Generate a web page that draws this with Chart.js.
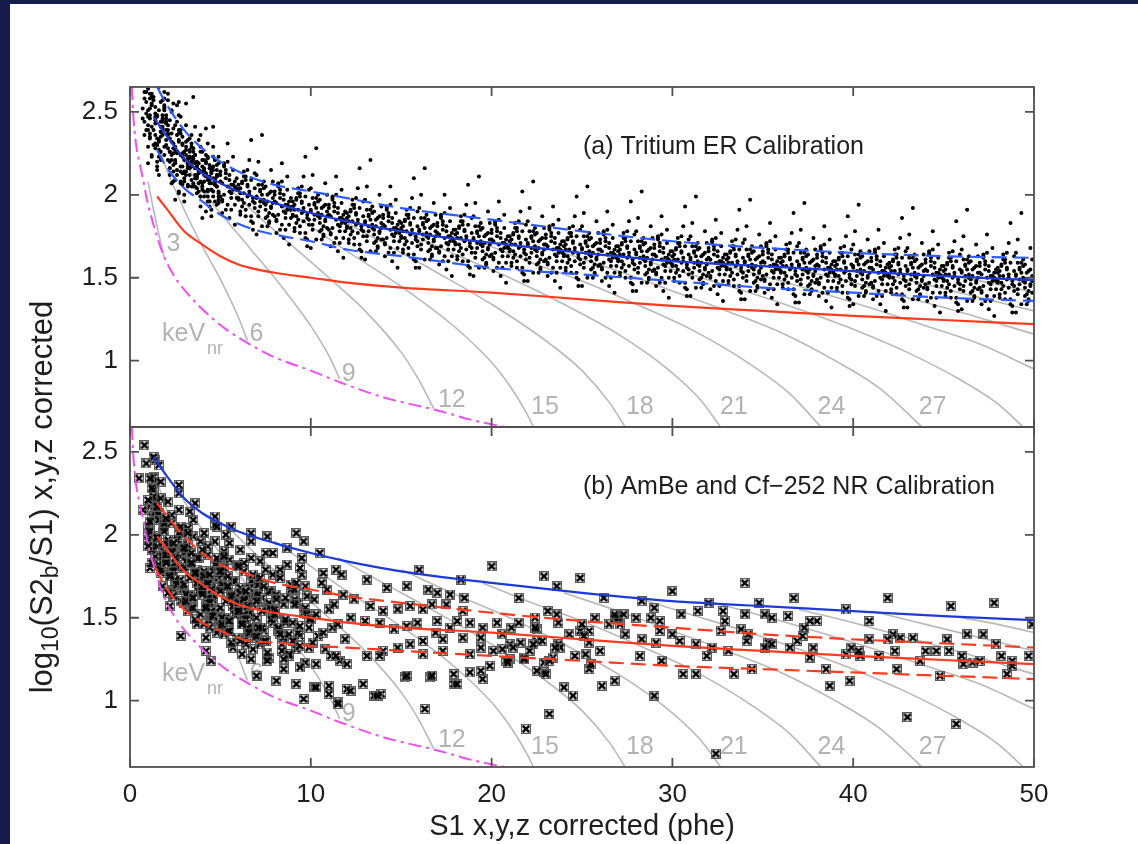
<!DOCTYPE html>
<html lang="en">
<head>
<meta charset="UTF-8" />
<title>ER / NR calibration bands</title>
<script src="https://cdn.jsdelivr.net/npm/chart.js@4.4.1/dist/chart.umd.min.js"></script>
<style>
  html, body { margin: 0; padding: 0; background: #151b4b; }
  body { width: 1138px; height: 844px; overflow: hidden; position: relative; }
  #sheet { position: absolute; left: 10px; top: 4px; width: 1128px; height: 840px; background: #ffffff; }
  #sheet canvas { position: absolute; left: 0; top: 0; }
</style>
</head>
<body>
<div id="sheet">
  <canvas id="panelA" width="1128" height="840"></canvas>
  <canvas id="panelB" width="1128" height="840"></canvas>
</div>
<script>
// axis ticks
const xTicks = [0, 10, 20, 30, 40, 50];
const yTicks = [1, 1.5, 2, 2.5];

// ER band (tritium): mean and 10% / 90% contours
const erS1 = [1.3, 2, 3, 4, 5, 6, 8, 10, 12, 15, 20, 25, 30, 35, 40, 45, 50];
const erMean = [2.47, 2.36, 2.22, 2.13, 2.07, 2.02, 1.95, 1.89, 1.84, 1.78, 1.71, 1.65, 1.60, 1.57, 1.54, 1.51, 1.485];
const erBandS1 = [1.5, 2, 3, 4, 5, 6.6, 8, 10, 12, 15, 20, 25, 30, 35, 40, 45, 50];
const erUpper = [2.65, 2.55, 2.39, 2.28, 2.20, 2.11, 2.06, 2.02, 1.98, 1.92, 1.85, 1.78, 1.72, 1.68, 1.65, 1.63, 1.62];
const erLower = [2.27, 2.17, 2.04, 1.96, 1.88, 1.80, 1.76, 1.72, 1.67, 1.63, 1.56, 1.52, 1.48, 1.44, 1.41, 1.38, 1.36];

// NR band (AmBe / Cf-252): mean and 10% / 90% contours
const nrS1 = [1.5, 2, 3, 4, 5, 6, 7, 8, 10, 12, 15, 20, 25, 30, 35, 40, 45, 50];
const nrMean = [1.99, 1.92, 1.78, 1.70, 1.63, 1.58, 1.55, 1.53, 1.50, 1.47, 1.44, 1.41, 1.37, 1.33, 1.30, 1.27, 1.245, 1.22];
const nrUpS1 = [1.5, 2, 3, 4, 5, 6.6, 8, 10, 12, 15, 20, 25, 30, 35, 40, 45, 50];
const nrUpper = [2.19, 2.12, 1.99, 1.89, 1.82, 1.76, 1.71, 1.67, 1.63, 1.59, 1.53, 1.48, 1.44, 1.40, 1.37, 1.345, 1.32];
const nrLoS1 = [1.4, 2, 3, 4, 5, 6.6, 8, 10, 12, 15, 20, 25, 30, 35, 40, 45, 50];
const nrLower = [1.80, 1.68, 1.55, 1.47, 1.42, 1.36, 1.35, 1.33, 1.32, 1.30, 1.27, 1.24, 1.21, 1.19, 1.17, 1.15, 1.13];

// S2 threshold (dash-dot)
const thrS1 = [0.1, 0.2, 0.38, 0.55, 0.73, 0.92, 1.3, 1.8, 2.5, 3.3, 4.2, 5.3, 6.6, 8, 10, 11.6, 14, 17, 19, 21.2];
const thrLog = [2.65, 2.45, 2.27, 2.18, 2.09, 1.98, 1.82, 1.65, 1.50, 1.39, 1.29, 1.19, 1.10, 1.02, 0.94, 0.87, 0.78, 0.70, 0.64, 0.59];

// constant-energy contours (keVnr)
const keVEnergies = [3, 6, 9, 12, 15, 18, 21, 24, 27, 30, 33, 36, 39, 42];
const keVS1 = [
  [1.0, 1.3, 1.6, 1.9],
  [1.5, 2, 3, 4, 5, 6, 6.5],
  [2.9, 4, 5, 6, 7, 8, 9, 10, 11, 11.6],
  [5.3, 7, 9, 11, 13, 15, 16, 16.8],
  [8, 10, 12, 14, 16, 18, 20, 21, 22, 22.4],
  [11.5, 14, 17, 20, 23, 25, 26.5, 27.5],
  [15, 18, 21, 24, 27, 29.5, 31.5, 32.8],
  [19.5, 22, 25, 28, 31, 34, 36.5, 38.3],
  [24, 27, 30, 33, 36, 39, 41.5, 43.9],
  [28, 31, 34, 37, 40, 43, 46, 48, 49.5],
  [32, 36, 40, 44, 47, 50],
  [37, 40, 43, 46, 50],
  [41, 44, 47, 50],
  [46, 48, 50]
];
const keVLog = [
  [2.08, 1.91, 1.76, 1.62],
  [2.32, 2.16, 1.91, 1.69, 1.49, 1.26, 1.12],
  [2.22, 2.03, 1.89, 1.76, 1.63, 1.50, 1.36, 1.21, 1.03, 0.89],
  [2.06, 1.88, 1.69, 1.50, 1.30, 1.05, 0.88, 0.71],
  [1.96, 1.81, 1.66, 1.52, 1.37, 1.20, 0.99, 0.85, 0.67, 0.58],
  [1.86, 1.71, 1.53, 1.34, 1.12, 0.94, 0.75, 0.58],
  [1.79, 1.64, 1.50, 1.34, 1.16, 0.97, 0.77, 0.58],
  [1.71, 1.60, 1.48, 1.34, 1.19, 1.00, 0.80, 0.59],
  [1.65, 1.54, 1.42, 1.30, 1.17, 1.00, 0.83, 0.59],
  [1.62, 1.52, 1.42, 1.31, 1.19, 1.05, 0.88, 0.74, 0.59],
  [1.60, 1.48, 1.35, 1.21, 1.10, 0.95],
  [1.55, 1.47, 1.38, 1.29, 1.16],
  [1.54, 1.46, 1.38, 1.30],
  [1.50, 1.46, 1.41]
];
const keVLabels = ['3', '6', '9', '12', '15', '18', '21', '24', '27'];
const keVLabelS1 = [2.4, 7.0, 12.1, 17.8, 22.95, 28.2, 33.4, 38.8, 44.4];
const keVLabelLog = [1.70, 1.16, 0.92, 0.76, 0.72, 0.72, 0.72, 0.72, 0.72];

// tritium events: pairs of [S1 x10, log10(S2b/S1) x100]
const tritiumEvents = [
  7,252,8,258,8,244,9,262,9,249,9,239,8,236,7,246,9,256,8,262,
  10,251,11,237,12,261,13,230,14,247,12,255,10,242,13,269,11,234,14,253,12,224,11,258,14,245,10,264,13,239,12,278,14,228,11,248,13,259,10,219,
  12,254,14,243,11,235,13,266,10,229,14,249,12,259,10,239,13,276,11,246,14,231,13,257,12,223,11,261,10,247,12,241,13,270,14,236,11,252,10,295,
  15,234,16,251,17,226,18,245,19,258,17,238,15,220,18,248,16,265,19,229,17,241,16,233,19,253,15,215,18,244,17,256,19,224,16,280,18,236,15,247,
  17,244,15,230,19,254,16,223,18,240,15,248,17,235,19,262,16,227,18,246,15,217,19,251,17,238,18,257,16,232,15,271,17,221,18,241,19,252,16,212,
  20,239,21,228,22,220,23,251,24,214,22,234,20,244,23,224,21,261,24,231,22,216,21,242,24,208,20,246,23,232,22,226,24,255,21,221,23,237,20,280,
  22,226,20,243,24,218,21,237,23,250,20,230,22,212,24,240,21,257,23,221,20,233,24,225,22,245,23,207,21,236,20,248,22,216,23,272,24,228,21,239,
  25,229,26,215,27,239,28,208,29,225,27,233,25,220,28,247,26,212,29,231,27,202,26,236,29,223,25,242,28,217,27,256,29,206,26,226,28,237,25,197,
  27,232,25,221,29,213,26,244,28,207,25,227,27,237,29,217,26,254,28,224,25,209,29,235,27,201,28,239,26,225,25,219,27,248,28,214,29,230,26,273,
  30,214,31,229,32,206,33,223,34,236,32,217,30,200,33,227,31,242,34,209,32,220,31,212,34,231,30,196,33,222,32,233,34,205,31,255,33,216,30,226,
  35,222,36,212,37,204,38,233,39,199,37,217,35,226,38,207,36,241,39,214,37,201,36,224,39,193,35,228,38,215,37,210,39,236,36,205,38,219,35,259,
  40,214,41,202,42,224,43,196,44,211,42,219,40,207,43,231,41,199,44,216,42,190,41,221,44,209,40,226,43,203,42,240,44,193,41,212,43,222,40,186,
  45,203,46,217,47,196,48,212,49,223,47,206,45,191,48,215,46,229,49,199,47,209,46,202,49,219,45,187,48,211,47,221,49,195,46,241,48,205,45,214,
  50,208,51,197,52,217,53,191,54,205,55,212,56,201,57,223,58,194,59,210,55,186,50,214,57,203,52,219,59,198,54,231,51,189,56,206,53,215,58,182,
  63,195,67,209,61,188,69,204,65,215,60,198,68,183,62,207,66,221,64,191,61,201,66,194,63,211,68,179,60,203,69,213,64,187,67,233,62,197,65,206,
  78,202,72,193,75,186,70,212,76,181,79,198,73,206,77,189,71,220,74,195,77,183,74,204,70,176,79,208,72,196,75,191,78,215,71,187,76,200,73,236,
  80,196,81,185,82,205,83,179,84,193,85,200,86,189,87,211,88,182,89,198,85,174,80,202,87,191,82,207,89,186,84,219,81,177,86,194,83,203,88,170,
  93,185,97,199,91,178,99,194,95,205,90,188,98,173,92,197,96,211,94,181,91,191,96,184,93,201,98,169,90,193,99,203,94,177,97,223,92,187,95,196,
  108,194,102,185,105,178,100,204,106,173,109,190,103,198,107,181,101,212,104,187,107,175,104,196,100,168,109,200,102,188,105,183,108,207,101,179,106,192,103,228,
  110,188,111,177,112,197,113,171,114,185,115,192,116,181,117,203,118,174,119,190,115,166,110,194,117,183,112,199,119,178,114,211,111,169,116,186,113,195,118,162,
  123,178,127,192,121,171,129,187,125,198,120,181,128,166,122,190,126,204,124,174,121,184,126,177,123,194,128,162,120,186,129,196,124,170,127,216,122,180,125,189,
  138,187,132,178,135,171,130,197,136,166,139,183,133,191,137,174,131,205,134,180,137,168,134,189,130,161,139,193,132,181,135,176,138,200,131,172,136,185,133,221,
  140,182,141,171,142,191,143,165,144,179,145,186,146,175,147,197,148,168,149,184,145,160,140,188,147,177,142,193,149,172,144,205,141,163,146,180,143,189,148,156,
  153,172,157,186,151,165,159,181,155,192,150,175,158,160,152,184,156,198,154,168,151,178,156,171,153,188,158,156,150,180,159,190,154,164,157,210,152,174,155,183,
  168,182,162,173,165,166,160,192,166,161,169,178,163,186,167,169,161,200,164,175,167,163,164,184,160,156,169,188,162,176,165,171,168,195,161,167,166,180,163,216,
  170,177,171,166,172,186,173,160,174,174,175,181,176,170,177,192,178,163,179,179,175,155,170,183,177,172,172,188,179,167,174,200,171,158,176,175,173,184,178,151,
  183,168,187,182,181,161,189,177,185,188,180,171,188,156,182,180,186,194,184,164,181,174,186,167,183,184,188,152,180,176,189,186,184,160,187,206,182,170,185,179,
  198,177,192,168,195,161,190,187,196,156,199,173,193,181,197,164,191,195,194,170,197,158,194,179,190,151,199,183,192,171,195,166,198,190,191,162,196,175,193,211,
  200,173,201,162,202,182,203,156,204,170,205,177,206,166,207,188,208,159,209,175,205,151,200,179,207,168,202,184,209,163,204,196,201,154,206,171,203,180,208,147,
  213,164,217,178,211,157,219,173,215,184,210,167,218,152,212,176,216,190,214,160,211,170,216,163,213,180,218,148,210,172,219,182,214,156,217,202,212,166,215,175,
  228,174,222,165,225,158,220,184,226,153,229,170,223,178,227,161,221,192,224,167,227,155,224,176,220,148,229,180,222,168,225,163,228,187,221,159,226,172,223,208,
  230,170,231,159,232,179,233,153,234,167,235,174,236,163,237,185,238,156,239,172,235,148,230,176,237,165,232,181,239,160,234,193,231,151,236,168,233,177,238,144,
  243,161,247,175,241,154,249,170,245,181,240,164,248,149,242,173,246,187,244,157,241,167,246,160,243,177,248,145,240,169,249,179,244,153,247,199,242,163,245,172,
  258,171,252,162,255,155,250,181,256,150,259,167,253,175,257,158,251,189,254,164,257,152,254,173,250,145,259,177,252,165,255,160,258,184,251,156,256,169,253,205,
  260,167,261,156,262,176,263,150,264,164,265,171,266,160,267,182,268,153,269,169,265,145,260,173,267,162,262,178,269,157,264,190,261,148,266,165,263,174,268,141,
  273,158,277,172,271,151,279,167,275,178,270,161,278,146,272,170,276,184,274,154,271,164,276,157,273,174,278,142,270,166,279,176,274,150,277,196,272,160,275,169,
  288,168,282,159,285,152,280,178,286,147,289,164,283,172,287,155,281,186,284,161,287,149,284,170,280,142,289,174,282,162,285,157,288,181,281,153,286,166,283,202,
  290,164,291,153,292,173,293,147,294,161,295,168,296,157,297,179,298,150,299,166,295,142,290,170,297,159,292,175,299,154,294,187,291,145,296,162,293,171,298,138,
  303,155,307,169,301,148,309,164,305,175,300,158,308,143,302,167,306,181,304,151,301,161,306,154,303,171,308,139,300,163,309,173,304,147,307,193,302,157,305,166,
  318,165,312,156,315,149,310,175,316,144,319,161,313,169,317,152,311,183,314,158,317,146,314,167,310,139,319,171,312,159,315,154,318,178,311,150,316,163,313,199,
  320,162,321,151,322,171,323,145,324,159,325,166,326,155,327,177,328,148,329,164,325,140,320,168,327,157,322,173,329,152,324,185,321,143,326,160,323,169,328,136,
  333,153,337,167,331,146,339,162,335,173,330,156,338,141,332,165,336,179,334,149,331,159,336,152,333,169,338,137,330,161,339,171,334,145,337,191,332,155,335,164,
  348,163,342,154,345,147,340,173,346,142,349,159,343,167,347,150,341,181,344,156,347,144,344,165,340,137,349,169,342,157,345,152,348,176,341,148,346,161,343,197,
  350,160,351,149,352,169,353,143,354,157,355,164,356,153,357,175,358,146,359,162,355,138,350,166,357,155,352,171,359,150,354,183,351,141,356,158,353,167,358,134,
  363,151,367,165,361,144,369,160,365,171,360,154,368,139,362,163,366,177,364,147,361,157,366,150,363,167,368,135,360,159,369,169,364,143,367,189,362,153,365,162,
  378,161,372,152,375,145,370,171,376,140,379,157,373,165,377,148,371,179,374,154,377,142,374,163,370,135,379,167,372,155,375,150,378,174,371,146,376,159,373,195,
  380,158,381,147,382,167,383,141,384,155,385,162,386,151,387,173,388,144,389,160,385,136,380,164,387,153,382,169,389,148,384,181,381,139,386,156,383,165,388,132,
  393,149,397,163,391,142,399,158,395,169,390,152,398,137,392,161,396,175,394,145,391,155,396,148,393,165,398,133,390,157,399,167,394,141,397,187,392,151,395,160,
  408,160,402,151,405,144,400,170,406,139,409,156,403,164,407,147,401,178,404,153,407,141,404,162,400,134,409,166,402,154,405,149,408,173,401,145,406,158,403,194,
  410,156,411,145,412,165,413,139,414,153,415,160,416,149,417,171,418,142,419,158,415,134,410,162,417,151,412,167,419,146,414,179,411,137,416,154,413,163,418,130,
  423,148,427,162,421,141,429,157,425,168,420,151,428,136,422,160,426,174,424,144,421,154,426,147,423,164,428,132,420,156,429,166,424,140,427,186,422,150,425,159,
  438,158,432,149,435,142,430,168,436,137,439,154,433,162,437,145,431,176,434,151,437,139,434,160,430,132,439,164,432,152,435,147,438,171,431,143,436,156,433,192,
  440,155,441,144,442,164,443,138,444,152,445,159,446,148,447,170,448,141,449,157,445,133,440,161,447,150,442,166,449,145,444,178,441,136,446,153,443,162,448,129,
  453,146,457,160,451,139,459,155,455,166,450,149,458,134,452,158,456,172,454,142,451,152,456,145,453,162,458,130,450,154,459,164,454,138,457,184,452,148,455,157,
  468,157,462,148,465,141,460,167,466,136,469,153,463,161,467,144,461,175,464,150,467,138,464,159,460,131,469,163,462,151,465,146,468,170,461,142,466,155,463,191,
  470,153,471,142,472,162,473,136,474,150,475,157,476,146,477,168,478,139,479,155,475,131,470,159,477,148,472,164,479,143,474,176,471,134,476,151,473,160,478,127,
  483,145,487,159,481,138,489,154,485,165,480,148,488,133,482,157,486,171,484,141,481,151,486,144,483,161,488,129,480,153,489,163,484,137,487,183,482,147,485,156,
  498,155,492,146,495,139,490,165,496,134,499,151,493,159,497,142,491,173,494,148,497,136,494,157,490,129,499,161,492,149,495,144,498,168,491,140,496,153,493,189
];

// tritium events in the band core: same encoding
const tritiumCoreEvents = [
  34,217,31,224,33,212,30,221,34,229,31,214,32,219,30,208,33,226,32,216,31,232,34,218,33,223,30,210,32,205,31,227,34,220,30,213,33,234,32,222,
  36,219,38,214,35,207,39,226,37,211,36,216,38,202,35,221,37,217,39,208,36,224,38,213,35,205,37,220,39,229,36,210,38,215,35,223,37,212,39,199,
  42,212,44,207,40,217,43,202,41,214,44,210,42,220,40,205,43,199,41,215,42,211,44,218,41,208,43,223,40,203,42,213,44,196,41,216,43,209,40,221,
  47,206,45,213,49,201,46,210,48,218,45,203,47,208,49,197,46,215,48,205,47,221,45,207,49,212,46,199,48,194,45,216,47,209,49,202,46,223,48,211,
  59,203,53,210,56,198,51,207,57,215,52,200,58,205,54,194,50,212,55,202,52,218,59,204,55,209,51,196,56,191,53,213,57,206,50,199,54,220,58,208,
  61,204,65,199,69,192,64,211,68,196,63,201,67,187,60,206,66,202,62,193,64,209,68,198,61,190,65,205,63,214,69,195,66,200,62,208,60,197,67,184,
  74,197,78,192,72,202,76,187,70,199,79,195,75,205,71,190,77,184,73,200,76,196,72,203,78,193,74,208,79,188,70,198,73,181,77,201,75,194,71,206,
  89,191,83,198,86,186,81,195,87,203,82,188,88,193,84,182,80,200,85,190,82,206,89,192,85,197,81,184,86,179,83,201,87,194,80,187,84,208,88,196,
  91,194,95,189,99,182,94,201,98,186,93,191,97,177,90,196,96,192,92,183,94,199,98,188,91,180,95,195,93,204,99,185,96,190,92,198,90,187,97,174,
  104,189,108,184,102,194,106,179,100,191,109,187,105,197,101,182,107,176,103,192,106,188,102,195,108,185,104,200,109,180,100,190,103,173,107,193,105,186,101,198,
  119,183,113,190,116,178,111,187,117,195,112,180,118,185,114,174,110,192,115,182,112,198,119,184,115,189,111,176,116,171,113,193,117,186,110,179,114,200,118,188,
  121,187,125,182,129,175,124,194,128,179,123,184,127,170,120,189,126,185,122,176,124,192,128,181,121,173,125,188,123,197,129,178,126,183,122,191,120,180,127,167,
  134,182,138,177,132,187,136,172,130,184,139,180,135,190,131,175,137,169,133,185,136,181,132,188,138,178,134,193,139,173,130,183,133,166,137,186,135,179,131,191,
  149,177,143,184,146,172,141,181,147,189,142,174,148,179,144,168,140,186,145,176,142,192,149,178,145,183,141,170,146,165,143,187,147,180,140,173,144,194,148,182,
  151,181,155,176,159,169,154,188,158,173,153,178,157,164,150,183,156,179,152,170,154,186,158,175,151,167,155,182,153,191,159,172,156,177,152,185,150,174,157,161,
  164,177,168,172,162,182,166,167,160,179,169,175,165,185,161,170,167,164,163,180,166,176,162,183,168,173,164,188,169,168,160,178,163,161,167,181,165,174,161,186,
  179,172,173,179,176,167,171,176,177,184,172,169,178,174,174,163,170,181,175,171,172,187,179,173,175,178,171,165,176,160,173,182,177,175,170,168,174,189,178,177,
  181,177,185,172,189,165,184,184,188,169,183,174,187,160,180,179,186,175,182,166,184,182,188,171,181,163,185,178,183,187,189,168,186,173,182,181,180,170,187,157,
  194,172,198,167,192,177,196,162,190,174,199,170,195,180,191,165,197,159,193,175,196,171,192,178,198,168,194,183,199,163,190,173,193,156,197,176,195,169,191,181,
  209,168,203,175,206,163,201,172,207,180,202,165,208,170,204,159,200,177,205,167,202,183,209,169,205,174,201,161,206,156,203,178,207,171,200,164,204,185,208,173,
  211,173,215,168,219,161,214,180,218,165,213,170,217,156,210,175,216,171,212,162,214,178,218,167,211,159,215,174,213,183,219,164,216,169,212,177,210,166,217,153,
  224,169,228,164,222,174,226,159,220,171,229,167,225,177,221,162,227,156,223,172,226,168,222,175,228,165,224,180,229,160,220,170,223,153,227,173,225,166,221,178,
  239,165,233,172,236,160,231,169,237,177,232,162,238,167,234,156,230,174,235,164,232,180,239,166,235,171,231,158,236,153,233,175,237,168,230,161,234,182,238,170,
  241,170,245,165,249,158,244,177,248,162,243,167,247,153,240,172,246,168,242,159,244,175,248,164,241,156,245,171,243,180,249,161,246,166,242,174,240,163,247,150,
  254,166,258,161,252,171,256,156,250,168,259,164,255,174,251,159,257,153,253,169,256,165,252,172,258,162,254,177,259,157,250,167,253,150,257,170,255,163,251,175,
  269,162,263,169,266,157,261,166,267,174,262,159,268,164,264,153,260,171,265,161,262,177,269,163,265,168,261,155,266,150,263,172,267,165,260,158,264,179,268,167,
  271,167,275,162,279,155,274,174,278,159,273,164,277,150,270,169,276,165,272,156,274,172,278,161,271,153,275,168,273,177,279,158,276,163,272,171,270,160,277,147,
  284,163,288,158,282,168,286,153,280,165,289,161,285,171,281,156,287,150,283,166,286,162,282,169,288,159,284,174,289,154,280,164,283,147,287,167,285,160,281,172,
  299,159,293,166,296,154,291,163,297,171,292,156,298,161,294,150,290,168,295,158,292,174,299,160,295,165,291,152,296,147,293,169,297,162,290,155,294,176,298,164,
  301,164,305,159,309,152,304,171,308,156,303,161,307,147,300,166,306,162,302,153,304,169,308,158,301,150,305,165,303,174,309,155,306,160,302,168,300,157,307,144,
  314,160,318,155,312,165,316,150,310,162,319,158,315,168,311,153,317,147,313,163,316,159,312,166,318,156,314,171,319,151,310,161,313,144,317,164,315,157,311,169,
  329,157,323,164,326,152,321,161,327,169,322,154,328,159,324,148,320,166,325,156,322,172,329,158,325,163,321,150,326,145,323,167,327,160,320,153,324,174,328,162,
  331,162,335,157,339,150,334,169,338,154,333,159,337,145,330,164,336,160,332,151,334,167,338,156,331,148,335,163,333,172,339,153,336,158,332,166,330,155,337,142,
  344,158,348,153,342,163,346,148,340,160,349,156,345,166,341,151,347,145,343,161,346,157,342,164,348,154,344,169,349,149,340,159,343,142,347,162,345,155,341,167,
  359,155,353,162,356,150,351,159,357,167,352,152,358,157,354,146,350,164,355,154,352,170,359,156,355,161,351,148,356,143,353,165,357,158,350,151,354,172,358,160,
  361,160,365,155,369,148,364,167,368,152,363,157,367,143,360,162,366,158,362,149,364,165,368,154,361,146,365,161,363,170,369,151,366,156,362,164,360,153,367,140,
  374,156,378,151,372,161,376,146,370,158,379,154,375,164,371,149,377,143,373,159,376,155,372,162,378,152,374,167,379,147,370,157,373,140,377,160,375,153,371,165,
  389,153,383,160,386,148,381,157,387,165,382,150,388,155,384,144,380,162,385,152,382,168,389,154,385,159,381,146,386,141,383,163,387,156,380,149,384,170,388,158,
  391,158,395,153,399,146,394,165,398,150,393,155,397,141,390,160,396,156,392,147,394,163,398,152,391,144,395,159,393,168,399,149,396,154,392,162,390,151,397,138,
  404,155,408,150,402,160,406,145,400,157,409,153,405,163,401,148,407,142,403,158,406,154,402,161,408,151,404,166,409,146,400,156,403,139,407,159,405,152,401,164,
  419,151,413,158,416,146,411,155,417,163,412,148,418,153,414,142,410,160,415,150,412,166,419,152,415,157,411,144,416,139,413,161,417,154,410,147,414,168,418,156,
  421,157,425,152,429,145,424,164,428,149,423,154,427,140,420,159,426,155,422,146,424,162,428,151,421,143,425,158,423,167,429,148,426,153,422,161,420,150,427,137,
  434,153,438,148,432,158,436,143,430,155,439,151,435,161,431,146,437,140,433,156,436,152,432,159,438,149,434,164,439,144,430,154,433,137,437,157,435,150,431,162,
  449,150,443,157,446,145,441,154,447,162,442,147,448,152,444,141,440,159,445,149,442,165,449,151,445,156,441,143,446,138,443,160,447,153,440,146,444,167,448,155,
  451,155,455,150,459,143,454,162,458,147,453,152,457,138,450,157,456,153,452,144,454,160,458,149,451,141,455,156,453,165,459,146,456,151,452,159,450,148,457,135,
  464,152,468,147,462,157,466,142,460,154,469,150,465,160,461,145,467,139,463,155,466,151,462,158,468,148,464,163,469,143,460,153,463,136,467,156,465,149,461,161,
  479,148,473,155,476,143,471,152,477,160,472,145,478,150,474,139,470,157,475,147,472,163,479,149,475,154,471,141,476,136,473,158,477,151,470,144,474,165,478,153,
  481,154,485,149,489,142,484,161,488,146,483,151,487,137,480,156,486,152,482,143,484,159,488,148,481,140,485,155,483,164,489,145,486,150,482,158,480,147,487,134,
  494,150,498,145,492,155,496,140,490,152,499,148,495,158,491,143,497,137,493,153,496,149,492,156,498,146,494,161,499,141,490,151,493,134,497,154,495,147,491,159
];

// neutron events: pairs of [S1 x10, log10(S2b/S1) x100]
const neutronEvents = [
  10,205,11,217,12,195,13,227,14,187,12,211,10,200,13,235,11,180,14,220,12,191,11,208,14,245,10,197,13,223,12,183,14,214,11,202,13,232,10,193,
  15,193,16,213,17,177,18,205,19,185,17,222,15,199,18,169,16,209,19,190,17,232,16,182,19,202,15,217,18,195,17,179,19,207,16,242,18,187,15,198,
  20,185,21,197,22,175,23,207,24,167,25,191,26,180,27,215,28,160,29,200,25,171,20,188,27,225,22,177,29,203,24,163,21,194,26,182,23,212,28,173,
  23,181,27,201,21,165,29,193,25,173,20,210,28,187,22,157,26,197,24,178,21,220,26,170,23,190,28,205,20,183,29,167,24,195,27,230,22,175,25,186,
  5,234,8,254,13,247,9,243,7,215,11,234,12,228,10,221,
  30,170,31,190,32,154,33,182,34,162,35,199,36,176,37,146,38,186,39,167,35,209,30,159,37,179,32,194,39,172,34,156,31,184,36,219,33,164,38,175,
  33,174,37,186,31,164,39,196,35,156,30,180,38,169,32,204,36,149,34,189,31,160,36,177,33,214,38,166,30,192,39,152,34,183,37,171,32,201,35,162,
  40,166,41,178,42,156,43,188,44,148,45,172,46,161,47,196,48,141,49,181,45,152,40,169,47,206,42,158,49,184,44,144,41,175,46,163,43,193,48,154,
  43,162,47,182,41,146,49,174,45,154,40,191,48,168,42,138,46,178,44,159,41,201,46,151,43,171,48,186,40,164,49,148,44,176,47,211,42,156,45,167,
  50,156,51,176,52,140,53,168,54,148,55,185,56,162,57,132,58,172,59,153,55,195,50,145,57,165,52,180,59,158,54,142,51,170,56,205,53,150,58,161,
  53,160,57,172,51,150,59,182,55,142,50,166,58,155,52,190,56,135,54,175,51,146,56,163,53,200,58,152,50,178,59,138,54,169,57,157,52,187,55,148,
  60,156,61,168,62,146,63,178,64,138,65,162,66,151,67,186,68,131,69,171,65,142,60,159,67,196,62,148,69,174,64,134,61,165,66,153,63,183,68,144,
  63,152,67,172,61,136,69,164,65,144,60,181,68,158,62,128,66,168,64,149,61,191,66,141,63,161,68,176,60,154,69,138,64,166,67,201,62,146,65,157,
  70,150,71,170,72,134,73,162,74,142,75,179,76,156,77,126,78,166,79,147,75,189,70,139,77,159,72,174,79,152,74,136,71,164,76,199,73,144,78,155,
  73,154,77,166,71,144,79,176,75,136,70,160,78,149,72,184,76,129,74,169,
  80,152,81,164,82,142,83,174,84,134,85,158,86,147,87,182,88,127,89,167,85,138,80,155,87,192,82,144,89,170,84,130,81,161,86,149,83,179,88,140,
  90,147,91,167,92,131,93,159,94,139,95,176,96,153,97,123,98,163,99,144,95,186,90,136,97,156,92,171,99,149,94,133,91,161,96,196,93,141,98,152,
  83,140,86,162,88,128,91,158,94,145,97,169,85,119,92,110,96,101,99,132,
  100,149,102,161,104,139,106,171,108,131,110,155,112,144,114,179,116,124,118,164,101,135,103,152,105,189,107,141,109,167,111,127,113,158,115,146,117,176,119,137,
  28,139,42,130,45,124,67,125,81,112,102,108,115,99,120,107,129,110,135,103,139,104,163,95,152,114,166,114,179,110,188,117,195,113,
  48,205,92,201,160,179,200,181,183,173,79,189,94,180,107,177,
  131,173,142,168,153,169,165,167,170,165,177,164,175,158,185,162,184,154,167,158,162,155,155,157,148,155,140,154,133,157,124,161,
  122,150,130,148,138,147,146,143,153,145,159,147,170,148,169,141,177,144,181,148,188,147,195,144,203,147,206,140,194,138,184,138,
  173,137,162,136,155,134,148,132,140,130,131,127,138,127,162,128,173,130,188,128,194,132,201,130,210,134,221,130,225,136,229,123,
  218,126,229,117,210,125,199,121,194,118,179,116,181,110,167,115,153,115,122,106,110,104,115,98,137,103,110,109,103,108,94,120,
  103,122,85,125,76,124,70,115,120,122,114,127,
  229,175,249,174,236,169,215,162,340,171,300,166,367,162,419,162,454,157,478,159,396,155,320,159,348,159,283,160,262,162,290,156,
  314,154,409,148,380,148,364,151,463,140,472,140,499,146,430,90,457,86,232,92,219,83,324,68,387,109,398,112,240,108,245,103,
  261,109,268,112,290,103,448,115,485,116,424,119,306,116,313,116,334,116,344,119,385,119,225,118,230,116,254,119,255,122,208,124,
  294,124,423,130,440,130,446,130,453,130,460,127,466,123,470,124,488,124,497,127,479,134,396,128,404,127,414,127,426,138,433,138,
  452,137,399,132,403,130,409,137,369,136,372,139,378,132,376,126,365,132,353,135,351,132,355,134,341,136,338,143,342,140,327,142,
  322,132,331,130,319,127,313,134,304,136,291,135,293,142,300,140,283,137,282,127,274,140,271,146,268,150,280,150,270,150,265,146,
  254,135,260,130,254,142,249,142,251,139,243,140,237,134,238,132,235,132,228,136,225,143,223,134,216,135,212,132,206,131,211,144,
  215,147,224,144,224,150,236,152,237,147,231,154,250,146,257,150,268,152,273,152,252,128,246,127,234,126,232,124,218,125,209,123,
  305,152,293,148,288,150,351,152,355,150,376,148,373,144,329,148,328,154,340,152,422,140,419,137,437,124,461,122,482,127,488,121
];

const FONT = "'Liberation Sans', Arial, Helvetica, sans-serif";
const INK = '#1e1e1e';
const LABEL_GREY = '#b3b3b3';

function pairsToPoints(flat) {
  const pts = [];
  for (let i = 0; i < flat.length; i += 2) pts.push({ x: flat[i] / 10, y: flat[i + 1] / 100 });
  return pts;
}
function zip(xs, ys) {
  return xs.map((x, i) => ({ x: x, y: ys[i] }));
}
function curve(xs, ys, color, width, dash, order) {
  return {
    data: zip(xs, ys), showLine: true, fill: false,
    borderColor: color, borderWidth: width, borderDash: dash || [],
    pointRadius: 0, pointHoverRadius: 0,
    cubicInterpolationMode: 'monotone', order: order
  };
}

// boxed x marker, as on the neutron plot
const xMark = document.createElement('canvas');
xMark.width = 10; xMark.height = 10;
(function () {
  const c = xMark.getContext('2d');
  c.strokeStyle = '#5a5a5a'; c.lineWidth = 1.2;
  c.strokeRect(0.6, 0.6, 8.8, 8.8);
  c.strokeStyle = '#000'; c.lineWidth = 2.4;
  c.beginPath();
  c.moveTo(1.8, 1.8); c.lineTo(8.2, 8.2);
  c.moveTo(8.2, 1.8); c.lineTo(1.8, 8.2);
  c.stroke();
})();

// frame with inward ticks on all four sides
const framePlugin = {
  id: 'frame',
  afterDraw(chart) {
    const { ctx, chartArea: a, scales } = chart;
    const x = scales.x, y = scales.y;
    ctx.save();
    ctx.strokeStyle = '#505050';
    ctx.lineWidth = 1.8;
    ctx.strokeRect(a.left, a.top, a.right - a.left, a.bottom - a.top);
    ctx.beginPath();
    xTicks.forEach(v => {
      const px = x.getPixelForValue(v);
      ctx.moveTo(px, a.bottom); ctx.lineTo(px, a.bottom - 9);
      ctx.moveTo(px, a.top); ctx.lineTo(px, a.top + 9);
    });
    yTicks.forEach(v => {
      const py = y.getPixelForValue(v);
      ctx.moveTo(a.left, py); ctx.lineTo(a.left + 9, py);
      ctx.moveTo(a.right, py); ctx.lineTo(a.right - 9, py);
    });
    ctx.stroke();
    ctx.restore();
  }
};

// energy labels under the data, panel title on top
const notesPlugin = {
  id: 'notes',
  beforeDatasetsDraw(chart) {
    const { ctx, scales: { x, y } } = chart;
    ctx.save();
    ctx.fillStyle = LABEL_GREY;
    ctx.font = '25px ' + FONT;
    ctx.textAlign = 'center';
    ctx.textBaseline = 'middle';
    keVLabels.forEach((t, i) => ctx.fillText(t, x.getPixelForValue(keVLabelS1[i]), y.getPixelForValue(keVLabelLog[i])));
    ctx.textAlign = 'left';
    ctx.fillText('keV', x.getPixelForValue(1.77), y.getPixelForValue(1.16));
    ctx.font = '18px ' + FONT;
    ctx.fillText('nr', x.getPixelForValue(4.26), y.getPixelForValue(1.07));
    ctx.restore();
  },
  afterDatasetsDraw(chart, args, opts) {
    const { ctx, scales: { x, y } } = chart;
    ctx.save();
    ctx.fillStyle = INK;
    ctx.font = '25px ' + FONT;
    ctx.textAlign = 'left';
    ctx.textBaseline = 'middle';
    ctx.fillText(opts.title, x.getPixelForValue(25.05), y.getPixelForValue(2.29));
    if (opts.yTitle) {
      const parts = [['log', 0], ['10', 1], ['(S2', 0], ['b', 1], ['/S1) x,y,z corrected', 0]];
      const big = '31px ' + FONT, small = '23px ' + FONT;
      let total = 0;
      parts.forEach(p => { ctx.font = p[1] ? small : big; total += ctx.measureText(p[0]).width; });
      ctx.translate(42, 493);
      ctx.rotate(-Math.PI / 2);
      ctx.textBaseline = 'alphabetic';
      let cx = -total / 2;
      parts.forEach(p => {
        ctx.font = p[1] ? small : big;
        ctx.fillText(p[0], cx, p[1] ? 6 : 0);
        cx += ctx.measureText(p[0]).width;
      });
    }
    ctx.restore();
  }
};

function makePanel(id, datasets, opts) {
  return new Chart(document.getElementById(id), {
    type: 'scatter',
    data: { datasets: datasets },
    options: {
      responsive: false,
      animation: false,
      devicePixelRatio: 1,
      events: [],
      layout: { padding: { left: 0, right: 104, top: opts.top, bottom: opts.bottom } },
      plugins: {
        legend: { display: false },
        tooltip: { enabled: false },
        notes: { title: opts.title, yTitle: opts.yTitle }
      },
      scales: {
        x: {
          type: 'linear', min: 0, max: 50,
          afterBuildTicks: s => { s.ticks = xTicks.map(v => ({ value: v })); },
          afterFit: s => { s.height = opts.showX ? 77 : 0; },
          grid: { display: false, drawTicks: false },
          border: { display: false },
          ticks: { display: opts.showX, color: INK, padding: 12, maxRotation: 0, font: { family: FONT, size: 26 } },
          title: { display: opts.showX, text: 'S1 x,y,z corrected (phe)', color: INK, padding: { top: 0, bottom: 0 }, font: { family: FONT, size: 29 } }
        },
        y: {
          type: 'linear', min: 0.6, max: 2.65,
          afterBuildTicks: s => { s.ticks = yTicks.map(v => ({ value: v })); },
          afterFit: s => { s.width = 120; },
          grid: { display: false, drawTicks: false },
          border: { display: false },
          ticks: { color: INK, padding: 12, font: { family: FONT, size: 26 }, callback: v => String(v) }
        }
      }
    },
    plugins: [notesPlugin, framePlugin]
  });
}

const contourSets = () => keVS1.map((xs, i) => curve(xs, keVLog[i], '#b9b9b9', 1.6, [], 3));
const thresholdSet = () => curve(thrS1, thrLog, '#f04ef0', 2, [13, 5, 3, 5], 1);

makePanel('panelA', [
  ...contourSets(),
  { data: pairsToPoints(tritiumEvents.concat(tritiumCoreEvents)), pointRadius: 2, pointBorderWidth: 0, pointBackgroundColor: '#000', order: 2 },
  thresholdSet(),
  curve(nrS1, nrMean, '#ff3b1f', 2.2, [], 1),
  curve(erBandS1, erUpper, '#2f5cff', 2.2, [15, 7], 1),
  curve(erBandS1, erLower, '#2f5cff', 2.2, [15, 7], 1),
  curve(erS1, erMean, '#1d3ad8', 2.2, [], 1)
], { top: 83, bottom: 417, showX: false, title: '(a) Tritium ER Calibration', yTitle: false });

makePanel('panelB', [
  ...contourSets(),
  { data: pairsToPoints(neutronEvents), pointStyle: xMark, pointRadius: 5, order: 2 },
  thresholdSet(),
  curve(erS1, erMean, '#1d3ad8', 2.2, [], 1),
  curve(nrUpS1, nrUpper, '#ff3b1f', 2.2, [15, 7], 1),
  curve(nrLoS1, nrLower, '#ff3b1f', 2.2, [15, 7], 1),
  curve(nrS1, nrMean, '#ff3b1f', 2.2, [], 1)
], { top: 423, bottom: 0, showX: true, title: '(b) AmBe and Cf\u2212252 NR Calibration', yTitle: true });
</script>
</body>
</html>
